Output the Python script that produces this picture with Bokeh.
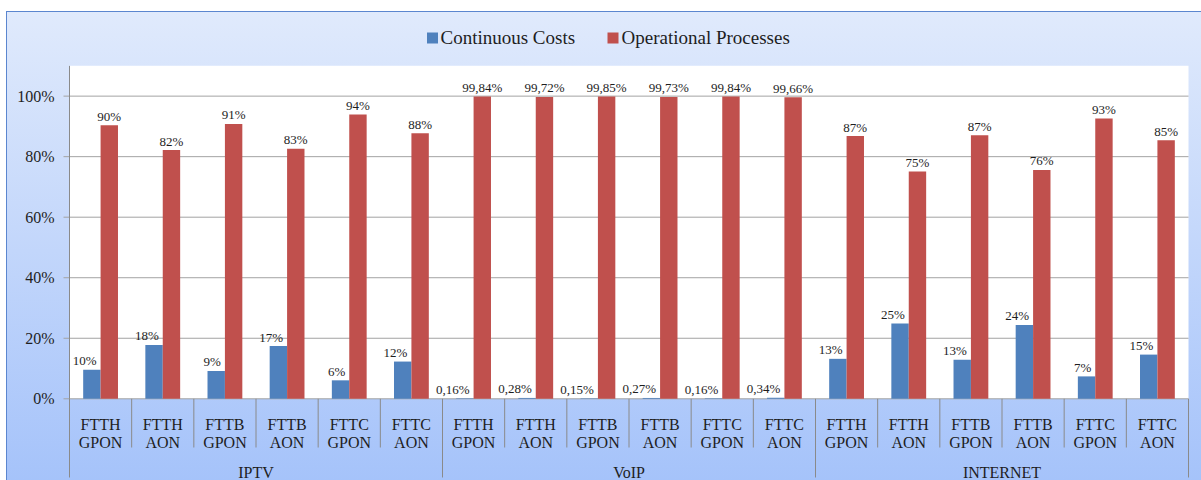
from bokeh.plotting import figure
from bokeh.models import Range1d
from bokeh.core.properties import value
from bokeh.embed import file_html
from bokeh.resources import INLINE

# ---------------- data ----------------
services = ["IPTV", "VoIP", "INTERNET"]
technologies = ["FTTH", "FTTH", "FTTB", "FTTB", "FTTC", "FTTC"]
architectures = ["GPON", "AON", "GPON", "AON", "GPON", "AON"]
series_names = ["Continuous Costs", "Operational Processes"]

continuous_costs = [9.6, 17.8, 9.2, 17.4, 6.1, 12.3,
                    0.16, 0.28, 0.15, 0.27, 0.16, 0.34,
                    13.2, 24.9, 12.9, 24.4, 7.4, 14.6]
operational_processes = [90.4, 82.2, 90.8, 82.6, 93.9, 87.7,
                         99.84, 99.72, 99.85, 99.73, 99.84, 99.66,
                         86.8, 75.1, 87.1, 75.6, 92.6, 85.4]
continuous_labels = ["10%", "18%", "9%", "17%", "6%", "12%",
                     "0,16%", "0,28%", "0,15%", "0,27%", "0,16%", "0,34%",
                     "13%", "25%", "13%", "24%", "7%", "15%"]
operational_labels = ["90%", "82%", "91%", "83%", "94%", "88%",
                      "99,84%", "99,72%", "99,85%", "99,73%", "99,84%", "99,66%",
                      "87%", "75%", "87%", "76%", "93%", "85%"]
y_ticks = [0, 20, 40, 60, 80, 100]
y_tick_labels = ["0%", "20%", "40%", "60%", "80%", "100%"]

# ---------------- styling / layout ----------------
FONT = "Liberation Serif"
BLUE = "#4f81bd"
RED = "#c0504d"
GRID = "#a3a3a3"
AXIS = "#8a8a8a"
TEXT = "#1e1e1e"
EDGE = "#5b86cf"

W, H = 1201, 480
PLOT_LEFT_PX, PLOT_RIGHT_PX = 69, 1188      # white plotting area, page pixels

n_sub = len(technologies)
n = n_sub * len(services)
ppu = (PLOT_RIGHT_PX - PLOT_LEFT_PX) / n    # pixels per category


def px_x(px):
    """page pixel column -> x data coordinate"""
    return (px - PLOT_LEFT_PX) / ppu


centers = [i + 0.5 for i in range(n)]
bw = 0.28
blue_x = [c - bw / 2 for c in centers]
red_x = [c + bw / 2 for c in centers]
sub_tech = technologies * len(services)
sub_arch = architectures * len(services)
group_centers = [g * n_sub + n_sub / 2 for g in range(len(services))]
sub_edges = [i for i in range(n + 1) if i % n_sub != 0]
group_edges = [g * n_sub for g in range(len(services) + 1)]

PLOT_TOP = 110      # top of the white plotting area
Y_TOP = 131.6       # top of the canvas
Y_BOTTOM = -27.0    # bottom of the canvas

p = figure(width=W, height=H, output_backend="svg", toolbar_location=None,
           x_range=Range1d(px_x(0), px_x(W)), y_range=Range1d(Y_BOTTOM, Y_TOP),
           x_axis_location=None, y_axis_location=None,
           min_border_left=0, min_border_right=0, min_border_top=0, min_border_bottom=0)
p.border_fill_color = None
p.background_fill_color = None
p.outline_line_color = None
p.xgrid.visible = False
p.ygrid.visible = False
p.styles = {
    "background": (f"linear-gradient({EDGE}, {EDGE}) left 6px top 11px / 1px 100% no-repeat, "
                   f"linear-gradient({EDGE}, {EDGE}) left 6px top 11px / 100% 1px no-repeat, "
                   "linear-gradient(to bottom, #e0eafc, #a4c2fa) left 6px top 11px / 100% 100% no-repeat, "
                   "#ffffff"),
}

# plot area (white)
p.quad(left=0, right=n, bottom=0, top=PLOT_TOP, fill_color="white", line_color=None)
# gridlines + outward tick marks
tick_len = 6 / ppu
p.segment(x0=[-tick_len] * len(y_ticks), y0=y_ticks, x1=[n] * len(y_ticks), y1=y_ticks,
          line_color=GRID, line_width=1)
# value axis line
p.segment(x0=[0], y0=[0], x1=[0], y1=[PLOT_TOP], line_color=AXIS, line_width=1)
# value axis labels
p.text(x=[0] * len(y_ticks), y=y_ticks, text=y_tick_labels, text_font=value(FONT),
       text_font_size=value("16px"), text_color=TEXT, text_align="right",
       text_baseline="middle", x_offset=-15)

# bars
rb = p.vbar(x=blue_x, top=continuous_costs, width=bw, fill_color=BLUE, line_color=None)
rr = p.vbar(x=red_x, top=operational_processes, width=bw, fill_color=RED, line_color=None)

# data labels
p.text(x=centers, y=continuous_costs, text=continuous_labels,
       text_font=value(FONT), text_font_size=value("13px"), text_color=TEXT,
       text_align="right", text_baseline="alphabetic", x_offset=-4, y_offset=-9)
p.text(x=red_x, y=operational_processes, text=operational_labels,
       text_font=value(FONT), text_font_size=value("13px"), text_color=TEXT,
       text_align="center", text_baseline="alphabetic", y_offset=-9)

# category separators
p.segment(x0=sub_edges, y0=0, x1=sub_edges, y1=-16.1, line_color=AXIS, line_width=1)
p.segment(x0=group_edges, y0=0, x1=group_edges, y1=-26, line_color=AXIS, line_width=1)

# category labels
p.text(x=centers, y=-8.5, text=sub_tech, text_font=value(FONT), text_font_size=value("16px"),
       text_color=TEXT, text_align="center", text_baseline="alphabetic")
p.text(x=centers, y=-14.6, text=sub_arch, text_font=value(FONT), text_font_size=value("16px"),
       text_color=TEXT, text_align="center", text_baseline="alphabetic")
p.text(x=group_centers, y=-24.5, text=services, text_font=value(FONT), text_font_size=value("16px"),
       text_color=TEXT, text_align="center", text_baseline="alphabetic")

# legend (markers + labels, top centre)
legend_marker_px = [432, 612.5]
legend_text_px = [440, 621]
legend_y_marker = 119.2
legend_y_text = 119.3
p.scatter(x=[px_x(v) for v in legend_marker_px], y=[legend_y_marker] * 2, marker="square",
          size=11, fill_color=[BLUE, RED], line_color=None)
p.text(x=[px_x(v) for v in legend_text_px], y=[legend_y_text] * 2, text=series_names,
       text_font=value(FONT), text_font_size=value("19px"), text_color=TEXT,
       text_align="left", text_baseline="alphabetic")

open("out.html", "w").write(file_html(p, INLINE))
